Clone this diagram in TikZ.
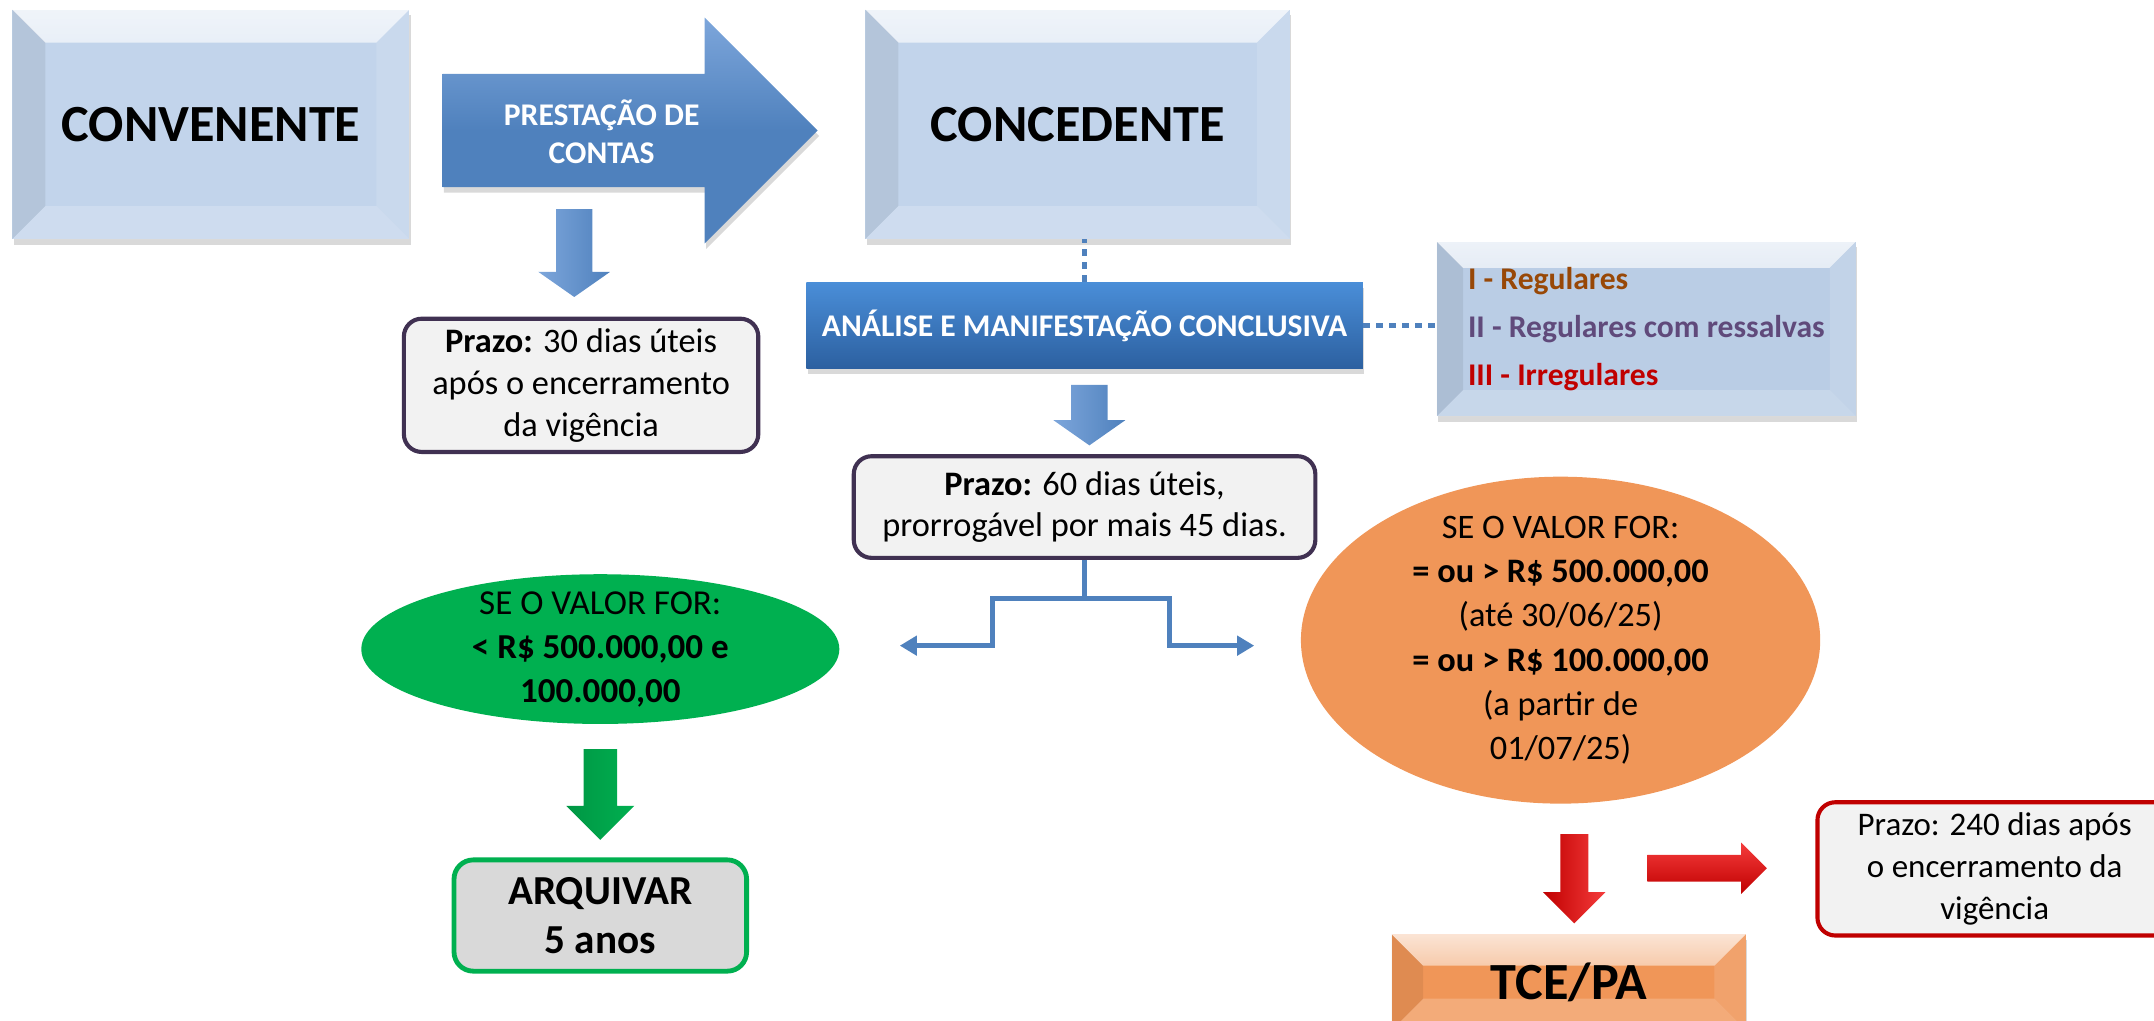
\documentclass[tikz,border=0pt]{standalone}
\usepackage{fontspec}
\setmainfont{Carlito}
\usetikzlibrary{positioning, shapes.geometric, shapes.arrows, shadows, fadings, arrows.meta}

\definecolor{azulcaixa}{RGB}{194,212,235}
\definecolor{azullista}{RGB}{186,205,229}
\definecolor{azulseta}{RGB}{79,129,189}
\definecolor{azulclaro}{RGB}{125,166,219}
\definecolor{azultopo}{RGB}{74,142,216}
\definecolor{azulbase}{RGB}{44,96,160}
\definecolor{roxoborda}{RGB}{64,49,82}
\definecolor{cinzaclaro}{RGB}{242,242,242}
\definecolor{cinza}{RGB}{217,217,217}
\definecolor{verde}{RGB}{0,176,80}
\definecolor{verdeescuro}{RGB}{0,150,68}
\definecolor{laranja}{RGB}{240,150,88}
\definecolor{laranjaclaro}{RGB}{247,182,126}
\definecolor{vermelho}{RGB}{192,0,0}
\definecolor{vermelhoclaro}{RGB}{245,60,60}
\definecolor{marrom}{RGB}{152,72,7}
\definecolor{roxo}{RGB}{96,74,123}

\begin{document}
\begin{tikzpicture}[x=1pt, y=1pt,
	caixa/.style={rectangle, fill=azulcaixa, inner sep=0pt,
		drop shadow={shadow xshift=1pt, shadow yshift=-4pt, opacity=.3}},
	bisel/.style={path picture={
		\fill[white, path fading=south, opacity=.75] (path picture bounding box.north west) -- (path picture bounding box.north east)
			-- ([xshift=-#1, yshift=-#1]path picture bounding box.north east) -- ([xshift=#1, yshift=-#1]path picture bounding box.north west) -- cycle;
		\fill[white, opacity=.2] (path picture bounding box.south west) -- (path picture bounding box.south east)
			-- ([xshift=-#1, yshift=#1]path picture bounding box.south east) -- ([xshift=#1, yshift=#1]path picture bounding box.south west) -- cycle;
		\fill[black, opacity=.07] (path picture bounding box.north west) -- ([xshift=#1, yshift=-#1]path picture bounding box.north west)
			-- ([xshift=#1, yshift=#1]path picture bounding box.south west) -- (path picture bounding box.south west) -- cycle;
		\fill[white, opacity=.12] (path picture bounding box.north east) -- ([xshift=-#1, yshift=-#1]path picture bounding box.north east)
			-- ([xshift=-#1, yshift=#1]path picture bounding box.south east) -- (path picture bounding box.south east) -- cycle;
	}},
	prazo/.style={rectangle, rounded corners=13pt, draw=#1, line width=3pt, fill=cinzaclaro, align=center, inner sep=0pt,
		minimum width=258pt, font=\fontsize{25}{30.5}\selectfont},
	seta/.style={single arrow, single arrow head indent=0pt, inner xsep=0pt, anchor=tail},
	conector/.style={draw=azulseta, line width=3.6pt, -{Triangle[length=12.5pt, width=14pt]}},
	pontilhado/.style={draw=azulseta, line width=3.8pt, dash pattern=on 5pt off 4.5pt}
	]

	\useasboundingbox (0,0) rectangle (1568,-743);

	\node[caixa, bisel=24pt, minimum width=289pt, minimum height=167pt, font=\fontsize{38}{46}\selectfont\bfseries] (convenente) at (153.5,-90.5) {CONVENENTE};
	\node[caixa, bisel=24pt, minimum width=309pt, minimum height=167pt, font=\fontsize{38}{46}\selectfont\bfseries] (concedente) at (784.5,-90.5) {CONCEDENTE};

	\node[seta, single arrow tip angle=90, inner ysep=41pt, single arrow head extend=41pt, minimum height=273pt,
		top color=azulclaro, bottom color=azulseta, middle color=azulseta,
		drop shadow={shadow xshift=1pt, shadow yshift=-4pt, opacity=.3}] (prestacao) at (322,-95) {};
	\node[text=white, align=center, font=\fontsize{23}{28}\selectfont\bfseries] (prestacaotxt) at (438,-96) {PRESTAÇÃO DE\\CONTAS};

	\node[seta, rotate=-90, inner ysep=13pt, single arrow head extend=13pt, single arrow tip angle=110, minimum height=64pt,
		left color=azulclaro, right color=azulseta] (seta1) at (418,-152) {};
	\node[prazo=roxoborda, minimum height=97pt] (prazo30) at (423,-280.5) {\textbf{Prazo:} 30 dias úteis\\após o encerramento\\da vigência};

	\node[rectangle, minimum width=405pt, minimum height=63pt, below=31pt of concedente, xshift=5pt,
		top color=azultopo, bottom color=azulbase, text=white, font=\fontsize{23}{28}\selectfont\bfseries,
		drop shadow={shadow xshift=1pt, shadow yshift=-4pt, opacity=.3}] (analise) {ANÁLISE E MANIFESTAÇÃO CONCLUSIVA};
	\node[caixa, fill=azullista, bisel=19pt, minimum width=305pt, minimum height=127pt, align=left,
		font=\fontsize{23}{35}\selectfont\bfseries] (lista) at (1198.5,-239.5)
		{\textcolor{marrom}{I - Regulares}\\\textcolor{roxo}{II - Regulares com ressalvas}\\\textcolor{vermelho}{III - Irregulares}};

	\draw[pontilhado] (analise.north) -- (analise.north |- concedente.south);
	\draw[pontilhado] (analise.east) -- (analise.east -| lista.west);

	\node[seta, rotate=-90, inner ysep=13pt, single arrow head extend=13pt, single arrow tip angle=110, minimum height=44pt,
		left color=azulclaro, right color=azulseta] (seta2) at (793,-280) {};
	\node[prazo=roxoborda, minimum width=336pt, minimum height=74pt, below=62pt of analise] (prazo60) {\textbf{Prazo:} 60 dias úteis,\\prorrogável por mais 45 dias.};

	\coordinate (esq) at (655,-470);
	\coordinate (dir) at (913,-470);
	\draw[conector] (prazo60.south) |- ([xshift=-67pt, yshift=-28pt]prazo60.south) |- (esq);
	\draw[conector] (prazo60.south) |- ([xshift=62pt, yshift=-28pt]prazo60.south) |- (dir);

	\node[ellipse, fill=verde, inner xsep=0pt, inner ysep=-14pt, minimum width=348pt, minimum height=109pt, align=center,
		font=\fontsize{25.5}{32}\selectfont] (menor) at (437,-472.5) {SE O VALOR FOR:\\\textbf{< R\$ 500.000,00 e}\\\textbf{100.000,00}};
	\node[seta, rotate=-90, inner ysep=12pt, single arrow head extend=12.5pt, single arrow tip angle=90, minimum height=66pt,
		left color=verdeescuro, right color=verde] (setaverde) at ([yshift=-18pt]menor.south) {};
	\node[rectangle, rounded corners=14pt, draw=verde, line width=3.5pt, fill=cinza, minimum width=213pt, minimum height=81pt,
		align=center, font=\fontsize{30}{36}\selectfont\bfseries, below=97pt of menor] (arquivar) {ARQUIVAR\\5 anos};

	\node[ellipse, fill=laranja, inner xsep=0pt, inner ysep=-25pt, minimum width=378pt, minimum height=238pt, align=center,
		font=\fontsize{25}{32.2}\selectfont] (maior) at (1136,-466)
		{SE O VALOR FOR:\\\textbf{= ou > R\$ 500.000,00}\\(até 30/06/25)\\\textbf{= ou > R\$ 100.000,00}\\(a partir de\\01/07/25)};
	\node[seta, rotate=-90, inner ysep=10pt, single arrow head extend=12.5pt, single arrow tip angle=90, minimum height=65pt,
		left color=vermelho, right color=vermelhoclaro] (setavermelha) at (1146,-607) {};
	\node[caixa, fill=laranja, bisel=23pt, minimum width=258pt, minimum height=70pt, font=\fontsize{38}{46}\selectfont\bfseries] (tce) at (1142,-715) {TCE/PA};

	\node[seta, inner ysep=9.5pt, single arrow head extend=9pt, single arrow tip angle=90, minimum height=87pt,
		top color=vermelhoclaro, bottom color=vermelho] (setadireita) at (1199,-632) {};
	\node[prazo=vermelho, minimum height=97pt, font=\fontsize{24}{30.5}\selectfont] (prazo240) at (1452,-632.5) {Prazo: 240 dias após\\o encerramento da\\vigência};

\end{tikzpicture}
\end{document}
